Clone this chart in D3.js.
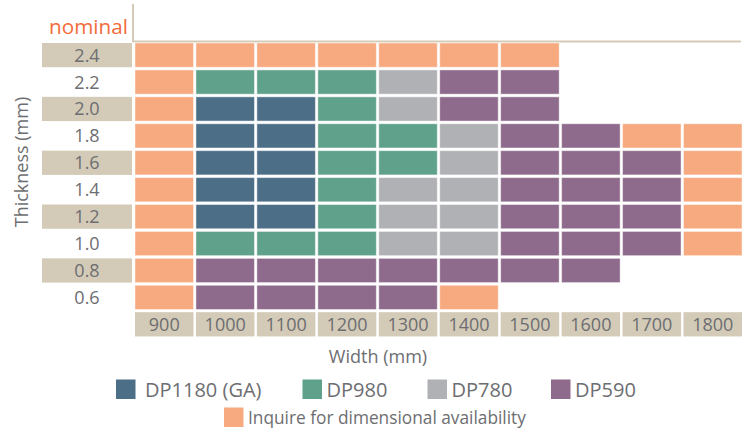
<!DOCTYPE html>
<html>
<head>
<meta charset="utf-8">
<script src="https://cdn.jsdelivr.net/npm/d3@7"></script>
<style>
  body { margin: 0; background: #fff; }
  text { font-family: "Open Sans", sans-serif; }
</style>
</head>
<body>
<div id="chart"></div>
<script>
const W = 748, H = 432;

// data
const widths = [900, 1000, 1100, 1200, 1300, 1400, 1500, 1600, 1700, 1800];
const thickness = ["2.4", "2.2", "2.0", "1.8", "1.6", "1.4", "1.2", "1.0", "0.8", "0.6"];
// grade per width for each thickness row (I = inquire)
const rows = [
  ["I", "I", "I", "I", "I", "I", "I"],
  ["I", "DP980", "DP980", "DP980", "DP780", "DP590", "DP590"],
  ["I", "DP1180", "DP1180", "DP980", "DP780", "DP590", "DP590"],
  ["I", "DP1180", "DP1180", "DP980", "DP980", "DP780", "DP590", "DP590", "I", "I"],
  ["I", "DP1180", "DP1180", "DP980", "DP980", "DP780", "DP590", "DP590", "DP590", "I"],
  ["I", "DP1180", "DP1180", "DP980", "DP780", "DP780", "DP590", "DP590", "DP590", "I"],
  ["I", "DP1180", "DP1180", "DP980", "DP780", "DP780", "DP590", "DP590", "DP590", "I"],
  ["I", "DP980", "DP980", "DP980", "DP780", "DP780", "DP590", "DP590", "DP590", "I"],
  ["I", "DP590", "DP590", "DP590", "DP590", "DP590", "DP590", "DP590"],
  ["I", "DP590", "DP590", "DP590", "DP590", "I"]
];
const grades = ["DP1180", "DP980", "DP780", "DP590", "I"];
const gradeLabels = ["DP1180 (GA)", "DP980", "DP780", "DP590", "Inquire for dimensional availability"];
const gradeColors = ["#4c6e87", "#5fa18a", "#b0b1b5", "#8e6a8c", "#f7a97f"];

const tan = "#d3cbb8";
const textGrey = "#6d6e71";

const color = d3.scaleOrdinal().domain(grades).range(gradeColors);

const x = d3.scaleBand().domain(widths).range([135, 742]).paddingInner(0.04);
const y = d3.scaleBand().domain(thickness).range([43, 309.5]).paddingInner(0.1);

const svg = d3.select("#chart").append("svg")
    .attr("width", W)
    .attr("height", H);

// header lines
svg.append("line")
    .attr("x1", 133).attr("x2", 133).attr("y1", 4).attr("y2", 42)
    .attr("stroke", tan).attr("stroke-width", 2);
svg.append("line")
    .attr("x1", 132).attr("x2", 741).attr("y1", 41.5).attr("y2", 41.5)
    .attr("stroke", tan).attr("stroke-width", 2);

svg.append("text")
    .attr("x", 128).attr("y", 34)
    .attr("text-anchor", "end")
    .attr("fill", "#f26b3a")
    .style("font-size", "20.7px")
    .text("nominal");

// row labels with alternating stripes
const rowLab = svg.append("g").selectAll("g")
    .data(thickness)
    .enter().append("g");

rowLab.filter((d, i) => i % 2 === 0).append("rect")
    .attr("x", 42)
    .attr("y", d => y(d))
    .attr("width", 90)
    .attr("height", y.bandwidth())
    .attr("fill", tan);

rowLab.append("text")
    .attr("x", 87)
    .attr("y", d => y(d) + y.bandwidth() / 2)
    .attr("dy", "0.36em")
    .attr("text-anchor", "middle")
    .attr("fill", textGrey)
    .style("font-size", "18px")
    .text(d => d);

// cells
const cells = [];
rows.forEach((r, i) => r.forEach((g, j) => cells.push({ t: thickness[i], w: widths[j], g: g })));

svg.append("g").selectAll("rect")
    .data(cells)
    .enter().append("rect")
    .attr("x", d => x(d.w))
    .attr("y", d => y(d.t))
    .attr("width", x.bandwidth())
    .attr("height", y.bandwidth())
    .attr("fill", d => color(d.g))
    .attr("stroke", "#fff")
    .attr("stroke-opacity", 0.45)
    .attr("stroke-width", 1);

// width labels
const axisY = y(thickness[thickness.length - 1]) + y.step();
const colLab = svg.append("g").selectAll("g")
    .data(widths)
    .enter().append("g");

colLab.append("rect")
    .attr("x", d => x(d))
    .attr("y", axisY)
    .attr("width", x.bandwidth())
    .attr("height", y.bandwidth())
    .attr("fill", tan);

colLab.append("text")
    .attr("x", d => x(d) + x.bandwidth() / 2)
    .attr("y", axisY + y.bandwidth() / 2)
    .attr("dy", "0.36em")
    .attr("text-anchor", "middle")
    .attr("fill", textGrey)
    .style("font-size", "18px")
    .text(d => d);

// axis titles
svg.append("text")
    .attr("transform", "translate(28,162) rotate(-90)")
    .attr("text-anchor", "middle")
    .attr("fill", textGrey)
    .style("font-size", "18px")
    .text("Thickness (mm)");

svg.append("text")
    .attr("x", 378).attr("y", 363)
    .attr("text-anchor", "middle")
    .attr("fill", textGrey)
    .style("font-size", "18px")
    .text("Width (mm)");

// legend
const legendPos = [[116, 379.5], [302.5, 379.5], [427.5, 379.5], [551, 379.5], [224, 407.5]];
const legend = svg.append("g").selectAll("g")
    .data(grades)
    .enter().append("g")
    .attr("transform", (d, i) => `translate(${legendPos[i][0]},${legendPos[i][1]})`);

legend.append("rect")
    .attr("width", 19.5).attr("height", 19.5)
    .attr("fill", d => color(d));

legend.append("text")
    .attr("x", (d, i) => i === 0 ? 29 : (i === 4 ? 24 : 24))
    .attr("y", 10)
    .attr("dy", "0.36em")
    .attr("fill", textGrey)
    .style("font-size", (d, i) => i === 4 ? "17.3px" : "20px")
    .text((d, i) => gradeLabels[i]);
</script>
</body>
</html>
